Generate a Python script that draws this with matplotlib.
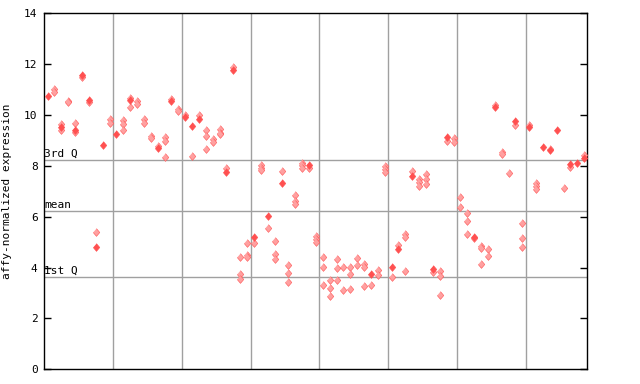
import matplotlib
matplotlib.use("Agg")
import matplotlib.pyplot as plt

# one list per sample column: checkered (light) points and solid points
light_vals = [
    [], [11.02, 10.89], [9.63, 9.41], [10.55, 10.5], [9.67, 9.35],
    [11.5], [10.5], [5.38], [], [9.83, 9.7],
    [], [9.8, 9.63, 9.43], [10.68, 10.31], [10.55, 10.43], [9.85, 9.7],
    [9.17, 9.1], [8.8], [9.13, 8.96, 8.33], [10.64], [10.25, 10.16],
    [10.0], [8.37], [10.01], [9.43, 9.17, 8.66], [9.04, 8.95],
    [9.47, 9.3, 9.24], [7.93], [11.9], [4.43, 3.73, 3.57], [4.95, 4.49, 4.41],
    [4.95], [8.03, 7.93, 7.82], [5.54], [5.03, 4.55, 4.32], [7.78],
    [4.12, 3.77, 3.45], [6.84, 6.6, 6.5], [8.12, 8.02, 7.9], [7.9], [5.26, 5.13, 4.99],
    [4.4, 4.02, 3.33], [3.53, 3.18, 2.9], [4.33, 3.98, 3.53], [4.02, 3.1], [4.04, 3.74, 3.15],
    [4.36, 4.12], [4.13, 4.03, 3.27], [3.31], [3.92, 3.69], [8.0, 7.86, 7.76],
    [3.62], [4.88], [5.31, 5.22, 3.88], [7.78], [7.48, 7.37, 7.2],
    [7.7, 7.47, 7.27], [3.84], [3.88, 3.65, 2.94], [8.99], [9.08, 8.95],
    [6.76, 6.4], [6.13, 5.84, 5.34], [5.16], [4.86, 4.78, 4.16], [4.75, 4.47],
    [10.39], [8.56, 8.45], [7.72], [9.62], [5.77, 5.18, 4.82],
    [9.6], [7.32, 7.22, 7.11], [], [8.67], [],
    [7.12], [7.96], [], [8.42],
]
solid_vals = [
    [10.73], [], [9.51], [], [9.42],
    [11.58], [10.6], [4.82], [8.83], [],
    [9.26], [], [10.6], [], [],
    [], [8.71], [], [10.56], [],
    [9.93], [9.58], [9.85], [], [],
    [], [7.76], [11.78], [], [],
    [5.21], [], [6.04], [], [7.32],
    [], [], [], [8.04], [],
    [], [], [], [], [],
    [], [], [3.75], [], [],
    [4.03], [4.74], [], [7.6], [],
    [], [3.96], [], [9.12], [],
    [], [], [5.2], [], [],
    [10.31], [], [], [9.78], [],
    [9.54], [], [8.75], [8.63], [9.42],
    [], [8.08], [8.12], [8.32],
]

q3 = 8.23
mean = 6.21
q1 = 3.62

red = '#ff5050'
light = '#ffa0a0'
grey = '#a0a0a0'
diamond = [(0, 1), (0.85, 0), (0, -1), (-0.85, 0)]

fig = plt.figure(figsize=(6.4, 3.84), dpi=100)
ax = fig.add_axes([0.0695, 0.0383, 0.8477, 0.927])

lx, ly, sx, sy = [], [], [], []
for i, vals in enumerate(light_vals):
    for v in vals:
        lx.append(i)
        ly.append(v)
for i, vals in enumerate(solid_vals):
    for v in vals:
        sx.append(i)
        sy.append(v)

ax.plot(lx, ly, linestyle='none', marker=diamond, ms=5.6, mfc=light, mec=red, mew=0.4, zorder=3)
ax.plot(sx, sy, linestyle='none', marker=diamond, ms=5.6, mfc=red, mec=red, mew=0.4, zorder=4)

# horizontal reference lines
for v in (q3, mean, q1):
    ax.axhline(v, color=grey, lw=1, zorder=1)
# vertical separators
for xv in range(10, 80, 10):
    ax.axvline(xv - 0.5, color=grey, lw=1, zorder=1)

mono = 'DejaVu Sans Mono'
ax.text(-0.45, q3 + 0.04, '3rd Q', family=mono, fontsize=8, va='bottom', ha='left')
ax.text(-0.45, mean + 0.04, 'mean', family=mono, fontsize=8, va='bottom', ha='left')
ax.text(-0.45, q1 + 0.04, '1st Q', family=mono, fontsize=8, va='bottom', ha='left')

ax.set_xlim(-0.45, 78.4)
ax.set_ylim(0, 14)
ax.set_xticks([])
ax.set_yticks(range(0, 15, 2))
ax.tick_params(axis='y', direction='in', length=5, width=1, right=True, labelsize=8, pad=5)
for lab in ax.get_yticklabels():
    lab.set_family(mono)
for s in ax.spines.values():
    s.set_linewidth(1)
ax.set_ylabel('affy-normalized expression', family=mono, fontsize=8, labelpad=9)

fig.savefig('out.png', dpi=100)
